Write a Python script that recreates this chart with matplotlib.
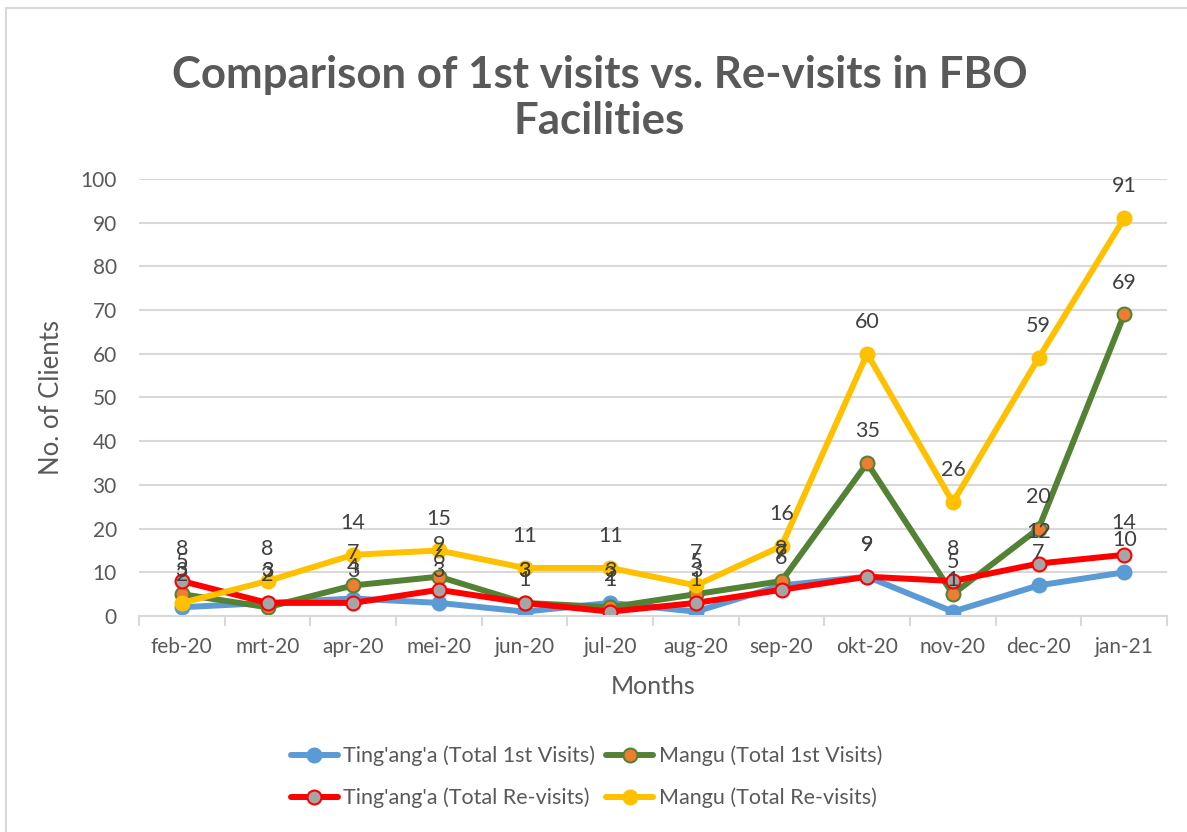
import matplotlib.pyplot as plt
from matplotlib.patches import Rectangle

plt.rcParams['font.family'] = ['Lato', 'DejaVu Sans']

# Chart data
MONTHS = ["feb-20", "mrt-20", "apr-20", "mei-20", "jun-20", "jul-20",
          "aug-20", "sep-20", "okt-20", "nov-20", "dec-20", "jan-21"]
tingang_first = [2, 3, 4, 3, 1, 3, 1, 7, 9, 1, 7, 10]
mangu_first = [5, 2, 7, 9, 3, 2, 5, 8, 35, 5, 20, 69]
tingang_revisit = [8, 3, 3, 6, 3, 1, 3, 6, 9, 8, 12, 14]
mangu_revisit = [3, 8, 14, 15, 11, 11, 7, 16, 60, 26, 59, 91]

TITLE = "Comparison of 1st visits vs. Re-visits in FBO\nFacilities"
X_LABEL = "Months"
Y_LABEL = "No. of Clients"

TEXT = "#595959"
LABEL = "#404040"
GRID = "#D9D9D9"

fig = plt.figure(figsize=(11.87, 8.32), dpi=100)
ax = fig.add_axes([0.1171, 0.2596, 0.8661, 0.5253])

# outer chart frame
fig.patches.append(Rectangle((6 / 1187, -0.02), 1.05, 1 - 8 / 832 + 0.02,
                             transform=fig.transFigure, fill=False,
                             edgecolor=GRID, linewidth=1.5))

x = list(range(len(MONTHS)))
series = [
    ("Ting'ang'a (Total 1st Visits)", tingang_first, "#5B9BD5", "#5B9BD5", "#5B9BD5"),
    ("Mangu (Total 1st Visits)", mangu_first, "#548235", "#ED7D31", "#548235"),
    ("Ting'ang'a (Total Re-visits)", tingang_revisit, "#FF0000", "#A5A5A5", "#FF0000"),
    ("Mangu (Total Re-visits)", mangu_revisit, "#FFC000", "#FFC000", "#FFC000"),
]

lines = []
for name, vals, lc, fc, ec in series:
    ln, = ax.plot(x, vals, color=lc, linewidth=4.3, marker="o", markersize=10,
                  markerfacecolor=fc, markeredgecolor=ec, markeredgewidth=1.5,
                  label=name, solid_capstyle="round")
    lines.append(ln)

for name, vals, lc, fc, ec in series:
    for xi, v in zip(x, vals):
        ax.annotate(str(v), (xi, v), xytext=(0, 23), textcoords="offset points",
                    ha="center", va="center", fontsize=15.5, color=LABEL)

ax.set_xlim(-0.5, len(MONTHS) - 0.5)
ax.set_ylim(0, 100)
ax.set_yticks(range(0, 101, 10))
ax.set_xticks(x)
ax.set_xticklabels(MONTHS)
ax.set_xticks([i - 0.5 for i in range(len(MONTHS) + 1)], minor=True)
ax.tick_params(axis="x", which="major", length=0, pad=15, labelsize=15, labelcolor=TEXT)
ax.tick_params(axis="x", which="minor", length=7, width=1.5, color=GRID)
ax.tick_params(axis="y", length=0, pad=16, labelsize=15, labelcolor=TEXT)
ax.grid(axis="y", color=GRID, linewidth=1.5)
ax.set_axisbelow(True)
for s in ["top", "right", "left"]:
    ax.spines[s].set_visible(False)
ax.spines["bottom"].set_color(GRID)
ax.spines["bottom"].set_linewidth(1.5)

ax.set_xlabel(X_LABEL, fontsize=18, color=TEXT, labelpad=13)
ax.set_ylabel(Y_LABEL, fontsize=18.5, color=TEXT, labelpad=12)

fig.text(0.505, 0.882, TITLE, ha="center", va="center", fontsize=31.5,
         fontweight="bold", color=TEXT, linespacing=1.2)

# legend order: row 1 = 1st visits, row 2 = re-visits
order = [0, 2, 1, 3]
fig.legend([lines[i] for i in order], [series[i][0] for i in order],
           loc="center", bbox_to_anchor=(0.494, 0.066), ncol=2, frameon=False,
           fontsize=15.5, handlelength=2.2, columnspacing=0.5, labelspacing=1.0,
           handletextpad=0.25, labelcolor=TEXT)

fig.savefig("out.png", dpi=100)
